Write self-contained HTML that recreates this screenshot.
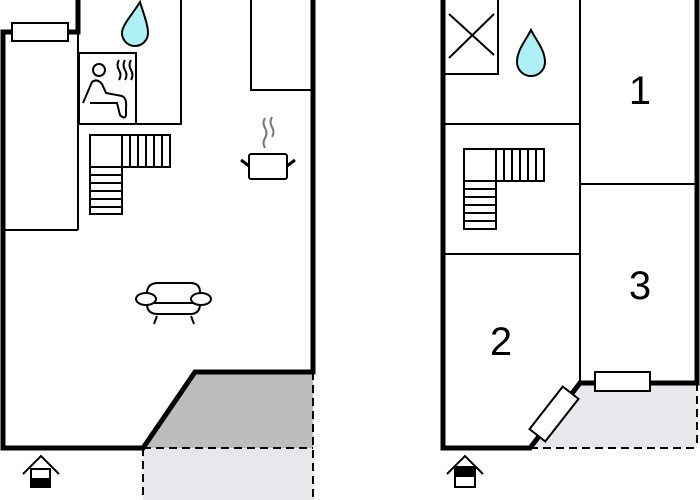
<!DOCTYPE html>
<html><head><style>body{margin:0;background:#fff}svg{display:block}</style></head><body>
<svg width="700" height="500" viewBox="0 0 700 500" xmlns="http://www.w3.org/2000/svg" font-family="Liberation Sans, sans-serif">
<!-- LEFT PLAN -->
<rect x="143" y="448" width="170" height="52" fill="#e8e8ec"/>
<polygon points="143,448 195,372 313,372 313,448" fill="#bdbdbd"/>
<g fill="none" stroke="#000" stroke-width="2" stroke-dasharray="8,5">
<line x1="143" y1="448" x2="143" y2="500"/><line x1="313" y1="372" x2="313" y2="500"/><line x1="143" y1="448" x2="313" y2="448"/>
</g>
<g stroke="#000" stroke-width="2" fill="none">
<line x1="3" y1="230" x2="78" y2="230"/><line x1="78" y1="32" x2="78" y2="230"/>
<polyline points="181,0 181,124 78,124"/>
<rect x="79" y="53" width="57" height="71"/>
<polyline points="251,0 251,90 311,90"/>
</g>
<g stroke="#000" stroke-width="5" fill="none" stroke-linejoin="miter">
<polyline points="78,0 78,32 3,32 3,448 143,448 195,372 313,372 313,0"/>
</g>
<rect x="12" y="23" width="56" height="18" fill="#fff" stroke="#000" stroke-width="2"/>
<path d="M140,2 C132,15 122,25 122,33 A10,10 0 0 0 148,33 C148,25 144,15 140,2Z" fill="#aef0f5" stroke="#000" stroke-width="2"/>
<!-- sauna figure -->
<g stroke="#000" stroke-width="2" fill="none">
<circle cx="99" cy="70" r="6"/>
<path d="M83,103 L92,82 Q97,78 102,84 L106,93 L122,96 Q127,98 126,108 L126,115 Q125,120 120,115 L117,103 L90,103"/>
<path d="M119,60 q-3,5 0,10 q3,5 0,10 M125,60 q-3,5 0,10 q3,5 0,10 M131,60 q-3,5 0,10 q3,5 0,10"/>
</g>
<!-- stairs -->
<g stroke="#000" stroke-width="2" fill="none">
<rect x="90" y="135" width="32" height="32"/><rect x="122" y="135" width="48" height="32"/>
<line x1="130" y1="135" x2="130" y2="167"/><line x1="138" y1="135" x2="138" y2="167"/><line x1="146" y1="135" x2="146" y2="167"/><line x1="154" y1="135" x2="154" y2="167"/><line x1="162" y1="135" x2="162" y2="167"/>
<rect x="90" y="167" width="32" height="47"/>
<line x1="90" y1="175" x2="122" y2="175"/><line x1="90" y1="183" x2="122" y2="183"/><line x1="90" y1="191" x2="122" y2="191"/><line x1="90" y1="199" x2="122" y2="199"/><line x1="90" y1="207" x2="122" y2="207"/>
</g>
<!-- pot -->
<g stroke="#000" stroke-width="2" fill="none">
<rect x="249" y="154" width="38" height="25" rx="2"/>
<line x1="241" y1="160" x2="249" y2="166" stroke-width="3"/><line x1="295" y1="160" x2="287" y2="166" stroke-width="3"/>
<path d="M265,118 q-3,5 0,10 q3,5 0,10 q-3,5 0,10 M272,117 q-3,5 0,10 q3,5 0,10" stroke="#777"/>
</g>
<!-- sofa -->
<g stroke="#000" stroke-width="2" fill="none">
<path d="M147,304 L147,292 Q148,283 158,283 L190,283 Q200,283 200,292 L200,304"/>
<path d="M147,304 Q147,314 158,314 L190,314 Q200,314 200,304"/>
<line x1="152" y1="303" x2="195" y2="303"/>
<ellipse cx="146" cy="299" rx="10" ry="6" fill="#fff"/><ellipse cx="201" cy="299" rx="10" ry="6" fill="#fff"/>
<line x1="157" y1="316" x2="154" y2="324"/><line x1="191" y1="316" x2="194" y2="324"/>
</g>
<!-- entrance left -->
<g stroke="#000" stroke-width="2" fill="none">
<polyline points="23,474 41,456 59,474"/>
<rect x="31" y="469" width="19" height="18"/>
</g>
<rect x="31" y="478" width="19" height="9" fill="#000"/>

<!-- RIGHT PLAN -->
<polygon points="530,448 580,383 697,383 697,448" fill="#e8e8ec"/>
<g fill="none" stroke="#000" stroke-width="2" stroke-dasharray="8,5">
<line x1="697" y1="383" x2="697" y2="448"/><line x1="530" y1="448" x2="697" y2="448"/>
</g>
<g stroke="#000" stroke-width="2" fill="none">
<line x1="580" y1="0" x2="580" y2="383"/>
<line x1="443" y1="124" x2="580" y2="124"/>
<line x1="580" y1="184" x2="697" y2="184"/>
<line x1="443" y1="254" x2="580" y2="254"/>
<rect x="443" y="-2" width="55" height="76"/>
<line x1="449" y1="14" x2="494" y2="55"/><line x1="449" y1="58" x2="494" y2="14"/>
</g>
<g stroke="#000" stroke-width="5" fill="none">
<polyline points="443,0 443,448 530,448 580,383 697,383 697,0"/>
</g>
<path d="M531,30 C526,40 517,50 517,62 A14,14 0 0 0 545,62 C545,50 536,40 531,30Z" fill="#aef0f5" stroke="#000" stroke-width="2"/>
<g stroke="#000" stroke-width="2" fill="none">
<rect x="464" y="149" width="32" height="32"/><rect x="496" y="149" width="48" height="32"/>
<line x1="504" y1="149" x2="504" y2="181"/><line x1="512" y1="149" x2="512" y2="181"/><line x1="520" y1="149" x2="520" y2="181"/><line x1="528" y1="149" x2="528" y2="181"/><line x1="536" y1="149" x2="536" y2="181"/>
<rect x="464" y="181" width="32" height="48"/>
<line x1="464" y1="189" x2="496" y2="189"/><line x1="464" y1="197" x2="496" y2="197"/><line x1="464" y1="205" x2="496" y2="205"/><line x1="464" y1="213" x2="496" y2="213"/><line x1="464" y1="221" x2="496" y2="221"/>
</g>
<rect x="595" y="372" width="55" height="19" fill="#fff" stroke="#000" stroke-width="2"/>
<rect x="-10" y="-27" width="20" height="54" fill="#fff" stroke="#000" stroke-width="2" transform="translate(554,414) rotate(38)"/>
<g font-size="40" fill="#000" text-anchor="middle">
<text x="640" y="104">1</text><text x="640" y="299">3</text><text x="501" y="355">2</text>
</g>
<g stroke="#000" stroke-width="2" fill="none">
<polyline points="447,474 465,456 483,474"/>
<rect x="455" y="467" width="20" height="20"/>
</g>
<rect x="455" y="467" width="20" height="10" fill="#000"/>
</svg>
</body></html>
